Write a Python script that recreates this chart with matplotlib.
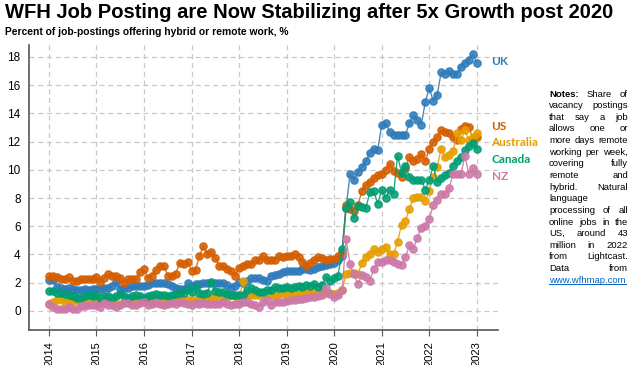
import numpy as np
import pandas as pd
import matplotlib.pyplot as plt
from matplotlib.lines import Line2D

# monthly data, Jan 2014 .. Jan 2023
months = pd.date_range("2014-01-01", "2023-01-01", freq="MS")
xval = months.year + (months.month - 1) / 12

uk = [2.2, 2.2, 1.7, 1.6, 1.55, 1.6, 1.55, 1.45, 1.5, 1.55, 1.45, 1.55,
      1.55, 1.55, 1.65, 1.6, 1.75, 2.05, 1.55, 1.6, 1.65, 1.75, 1.75, 1.8,
      1.8, 1.85, 2.0, 2.0, 1.95, 2.0, 1.9, 1.75, 1.65, 1.55, 1.55, 2.0,
      1.8, 1.9, 1.9, 2.0, 2.0, 1.95, 2.0, 2.0, 1.95, 1.85, 1.65, 1.75,
      2.05, 1.95, 2.15, 2.3, 2.3, 2.3, 2.2, 2.15, 2.5, 2.55, 2.65, 2.75,
      2.8, 2.8, 2.85, 2.85, 2.95, 3.0, 2.9, 3.0, 3.1, 3.2, 3.25, 3.35,
      3.4, 3.6, 3.9, 7.3, 9.7, 9.3, 9.85, 10.2, 10.6, 11.2, 11.5, 11.4,
      13.2, 13.3, 12.7, 12.5, 12.5, 12.5, 12.5, 13.3, 13.85, 13.5, 13.2, 14.8,
      15.8, 14.9, 15.3, 16.9, 16.8, 17.0, 16.8, 16.8, 17.3, 17.6, 17.8, 18.2,
      17.6]

us = [2.47, 2.47, 2.42, 2.28, 2.23, 2.4, 2.1, 2.1, 2.28, 2.23, 2.23, 2.23,
      2.42, 2.05, 2.35, 2.6, 2.5, 2.47, 2.35, 2.0, 2.23, 2.28, 2.23, 2.75,
      2.95, 2.3, 2.5, 2.9, 3.2, 3.2, 2.5, 2.5, 2.65, 3.4, 3.3, 3.5,
      2.85, 2.9, 3.9, 4.6, 4.0, 4.2, 3.75, 3.2, 3.2, 3.0, 2.8, 2.5,
      3.05, 3.2, 3.3, 3.3, 3.6, 3.6, 3.9, 3.6, 3.6, 3.6, 3.9, 3.85,
      3.9, 3.9, 4.0, 3.85, 3.5, 3.2, 3.4, 3.6, 3.8, 3.75, 3.6, 3.7,
      3.65, 3.9, 4.2, 7.5, 7.2, 7.1, 7.5, 8.5, 8.9, 9.1, 9.4, 9.6,
      9.7, 10.0, 10.4, 9.9, 9.8, 9.5, 10.1, 10.9, 10.6, 10.75, 11.1, 10.6,
      11.5, 12.0, 12.3, 12.8, 12.7, 12.6, 12.35, 12.1, 12.9, 13.1, 13.05, 12.2,
      12.3]

australia = [0.5, 0.6, 0.8, 0.85, 0.6, 0.7, 0.7, 0.8, 0.65, 0.7, 0.6, 0.55,
             0.65, 0.6, 0.7, 0.6, 0.65, 0.5, 0.5, 0.6, 0.6, 0.65, 0.65, 0.7,
             0.65, 0.7, 0.75, 0.7, 0.8, 0.75, 0.7, 0.75, 0.8, 0.75, 0.7, 0.75,
             0.8, 0.8, 0.85, 0.9, 0.85, 1.0, 1.0, 1.0, 1.0, 1.0, 1.15, 1.05,
             0.9, 2.1, 1.1, 1.15, 1.15, 1.15, 1.2, 1.1, 1.15, 1.1, 1.2, 1.3,
             1.15, 1.1, 1.2, 1.15, 1.3, 1.25, 1.3, 1.35, 1.25, 1.3, 1.25, 1.3,
             1.2, 1.3, 1.5, 2.6, 2.7, 2.7, 2.6, 3.4, 3.8, 4.0, 4.4, 4.2,
             4.4, 4.5, 4.0, 4.0, 4.9, 6.1, 6.4, 7.25, 8.0, 8.05, 8.05, 7.8,
             8.5, 9.5, 10.2, 11.5, 10.9, 11.05, 11.3, 12.6, 12.1, 12.8, 12.1, 12.35,
             12.6]

canada = [1.4, 1.4, 1.3, 1.3, 1.2, 1.1, 1.05, 0.95, 0.95, 1.05, 1.1, 1.05,
          1.1, 0.95, 1.05, 1.05, 0.95, 1.05, 1.2, 1.05, 0.95, 1.05, 1.1, 1.05,
          0.95, 1.05, 1.1, 1.2, 1.15, 1.1, 1.05, 1.15, 1.2, 1.25, 1.3, 1.55,
          1.35, 1.7, 1.3, 1.2, 1.3, 2.05, 1.4, 1.35, 1.35, 1.2, 1.1, 1.1,
          1.1, 1.15, 1.45, 1.6, 1.45, 1.35, 1.35, 1.45, 1.5, 1.7, 1.65, 1.6,
          1.7, 1.65, 1.7, 1.75, 1.7, 1.85, 1.8, 1.9, 1.7, 1.85, 2.4, 2.15,
          2.3, 2.5, 4.4, 7.3, 7.7, 6.6, 7.4, 7.35, 7.3, 8.4, 8.5, 7.6,
          8.6, 8.0, 8.6, 8.3, 11.0, 9.8, 10.3, 9.5, 9.3, 9.3, 9.3, 8.6,
          9.25, 10.3, 9.1, 9.4, 9.6, 9.8, 10.3, 10.65, 10.9, 11.4, 11.7, 11.9,
          11.5]

nz = [0.5, 0.25, 0.15, 0.1, 0.15, 0.3, 0.15, 0.1, 0.35, 0.35, 0.45, 0.45,
      0.4, 0.3, 0.55, 0.45, 0.4, 0.25, 0.45, 0.55, 0.55, 0.45, 0.4, 0.55,
      0.6, 0.45, 0.5, 0.55, 0.5, 0.45, 0.5, 0.55, 0.5, 0.6, 0.55, 0.5,
      0.45, 0.55, 0.5, 0.55, 0.5, 0.5, 0.5, 0.5, 0.65, 0.5, 0.4, 0.5,
      0.5, 0.6, 0.6, 0.5, 0.4, 0.3, 0.6, 0.75, 0.4, 0.6, 0.65, 0.6,
      0.7, 0.8, 0.8, 0.85, 0.85, 0.9, 1.0, 1.0, 1.05, 1.1, 1.6, 1.2,
      1.0, 1.1, 1.5, 5.1, 3.3, 2.6, 1.9, 2.55, 2.4, 2.1, 3.0, 3.45,
      3.5, 3.6, 3.6, 3.5, 3.35, 3.25, 3.8, 4.65, 4.4, 5.2, 5.9, 6.0,
      6.5, 7.5, 7.85, 8.3, 8.25, 8.7, 9.7, 9.7, 9.7, 11.0, 9.7, 10.1,
      9.7]

series = [("UK", uk, "#2f7cba", 17.7),
          ("US", us, "#d55e00", 13.1),
          ("Australia", australia, "#e69f00", 11.9),
          ("Canada", canada, "#009e73", 10.7),
          ("NZ", nz, "#cc79a7", 9.5)]

years = list(range(2014, 2024))
yticks = list(range(0, 19, 2))

note_lines = ["Notes: Share of", "vacancy postings", "that say a job",
              "allows one or", "more days remote", "working per week,",
              "covering fully", "remote and", "hybrid. Natural", "language",
              "processing of all", "online jobs in the", "US, around 43",
              "million in 2022", "from Lightcast.", "Data from",
              "www.wfhmap.com"]

plt.rcParams['font.family'] = ['Liberation Sans', 'DejaVu Sans']

fig = plt.figure(figsize=(6.3, 3.65), dpi=100)
ax = fig.add_axes([0.046, 0.096, 0.744, 0.781])

for name, vals, col, ylab in series:
    ax.plot(xval, vals, '-o', color=col, lw=1.0, ms=5.2, mec=col, alpha=0.88)
    ax.text(2023.31, ylab, name, color=col, fontsize=8.5, fontweight='bold',
            family='Lato', va='center', ha='left', clip_on=False)

ax.set_xlim(2013.58, 2023.44)
ax.set_ylim(-1.35, 18.85)
ax.set_xticks(years)
ax.set_xticklabels([str(y) for y in years], rotation=90, fontsize=8)
ax.set_yticks(yticks)
ax.set_yticklabels([str(v) for v in yticks], fontsize=8.5)
ax.tick_params(axis='x', length=4, color='#555555', pad=4)
ax.tick_params(axis='y', length=0, pad=6)
ax.grid(True, ls=(0, (4, 3)), color='#c8c8c8', lw=0.9)
ax.set_axisbelow(True)
for s in ['top', 'right']:
    ax.spines[s].set_visible(False)
for s in ['left', 'bottom']:
    ax.spines[s].set_color('#555555')
    ax.spines[s].set_linewidth(1.2)

fig.text(0.008, 0.966, "WFH Job Posting are Now Stabilizing after 5x Growth post 2020",
         fontsize=14.5, fontweight='bold', va='center', ha='left')
fig.text(0.008, 0.913, "Percent of job-postings offering hybrid or remote work, %",
         fontsize=7.4, fontweight='bold', va='center', ha='left')

# justified notes block
r = fig.canvas.get_renderer()
W, H = 630, 365
x0, x1 = 549, 628
base0, dy = 96.5, 11.64
for i, line in enumerate(note_lines):
    yb = 1 - (base0 + i * dy) / H
    words = line.split()
    link = line.startswith("www")
    col = '#0563c1' if link else 'black'
    txts = []
    for w in words:
        fw = 'bold' if w == "Notes:" else 'normal'
        txts.append(fig.text(0, yb, w, fontsize=6.8, color=col, fontweight=fw,
                             va='baseline', ha='left'))
    widths = [t.get_window_extent(r).width for t in txts]
    if len(words) > 1:
        gap = (x1 - x0 - sum(widths)) / (len(words) - 1)
    else:
        gap = 0
    pos = x0
    for t, wd in zip(txts, widths):
        t.set_x(pos / W)
        pos += wd + gap
    if link:
        fig.add_artist(Line2D([x0 / W, (x0 + widths[0]) / W], [yb - 1.5 / H] * 2,
                              color=col, lw=0.7))

fig.savefig("out.png", dpi=100)
